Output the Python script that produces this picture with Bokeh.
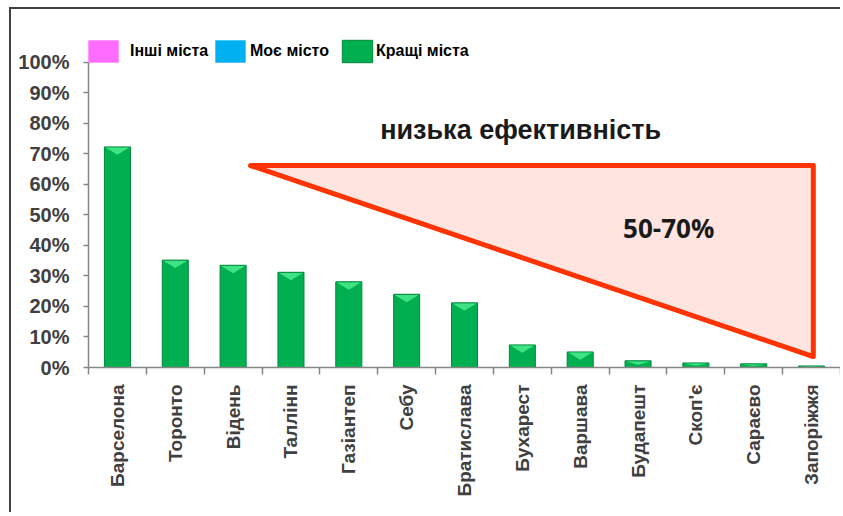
import math
from bokeh.plotting import figure
from bokeh.models import (Range1d, FixedTicker, NumeralTickFormatter, Legend,
                          LegendItem, Label, ColumnDataSource)
from bokeh.embed import file_html
from bokeh.resources import INLINE

# ---- data ----
cities = ["Барселона", "Торонто", "Відень", "Таллінн", "Газіантеп", "Себу",
          "Братислава", "Бухарест", "Варшава", "Будапешт", "Скоп'є", "Сараєво",
          "Запоріжжя"]
best_values = [0.723, 0.352, 0.335, 0.312, 0.281, 0.240, 0.212, 0.074, 0.051,
               0.022, 0.015, 0.012, 0.005]
other_values = [0, 0, 0, 0, 0, 0, 0, 0, 0, 0, 0, 0, 0]
my_values = [0, 0, 0, 0, 0, 0, 0, 0, 0, 0, 0, 0, 0]
series_names = ["Інші міста", "Моє місто", "Кращі міста"]
y_ticks = [0.0, 0.1, 0.2, 0.3, 0.4, 0.5, 0.6, 0.7, 0.8, 0.9, 1.0]
zone_label = "низька ефективність"
zone_range_label = "50-70%"
# triangle "low efficiency" zone (category position, share)
zone_x = [2.80, 12.53, 12.53]
zone_y = [0.662, 0.662, 0.036]

n = len(cities)
xc = [i + 0.5 for i in range(n)]
bar_w = 0.45

p = figure(width=831, height=505, output_backend="svg", toolbar_location=None,
           x_range=Range1d(0, n), y_range=Range1d(0, 1.157),
           min_border_left=77, min_border_right=2, min_border_top=5,
           min_border_bottom=147)
p.styles = {"border-top": "2px solid #404040", "border-left": "2px solid #404040",
            "margin-left": "9px", "margin-top": "7px"}
p.outline_line_color = None
p.xgrid.visible = False
p.ygrid.visible = False
p.background_fill_color = "white"

font = "Liberation Sans"

src_other = ColumnDataSource(data=dict(x=xc, top=other_values))
src_mine = ColumnDataSource(data=dict(x=xc, top=my_values))
r_other = p.vbar(x="x", top="top", width=bar_w, source=src_other,
                 fill_color="#FF6CFF", line_color=None)
r_mine = p.vbar(x="x", top="top", width=bar_w, source=src_mine,
                fill_color="#00B0F0", line_color=None)

src = ColumnDataSource(data=dict(x=xc, top=best_values, city=cities))
r_best = p.vbar(x="x", top="top", width=bar_w, source=src, fill_color="#00B050",
                line_color="#00873C", line_width=1)

# bevel highlight on bar tops (derived from the bar values)
bev_xs = [[x - bar_w / 2 + 0.02, x + bar_w / 2 - 0.02, x] for x in xc]
bev_ys = [[t - 0.002, t - 0.002, t - min(0.026, t * 0.6)] for t in best_values]
p.patches(bev_xs, bev_ys, fill_color="#3FE384", line_color=None)

# zone triangle
p.patch(zone_x, zone_y, fill_color="#FFE4DF", line_color="#FF3300", line_width=5,
        line_join="round")

p.add_layout(Label(x=7.47, y=0.777, text=zone_label, text_font=font,
                   text_font_style="bold", text_font_size="27px", text_color="#1a1a1a",
                   text_align="center", text_baseline="middle"))
p.add_layout(Label(x=10.03, y=0.456, text=zone_range_label, text_font="Open Sans",
                   text_font_style="bold", text_font_size="26px", text_color="#1a1a1a",
                   text_align="center", text_baseline="middle"))

# axes
xa = p.xaxis[0]
xa.ticker = FixedTicker(ticks=xc, minor_ticks=list(range(n + 1)))
xa.major_label_overrides = {x: c for x, c in zip(xc, cities)}
xa.major_label_orientation = math.pi / 2
xa.major_tick_line_color = None
xa.major_tick_out = 0
xa.minor_tick_out = 7
xa.minor_tick_in = 0
xa.minor_tick_line_color = "#868686"
xa.minor_tick_line_width = 1.5
xa.axis_line_color = "#868686"
xa.axis_line_width = 1.5
xa.major_label_standoff = 10
xa.major_label_text_font = font
xa.major_label_text_font_style = "bold"
xa.major_label_text_font_size = "19px"
xa.major_label_text_color = "#404040"

ya = p.yaxis[0]
ya.ticker = FixedTicker(ticks=y_ticks)
ya.formatter = NumeralTickFormatter(format="0%")
ya.bounds = (0, 1)
ya.minor_tick_line_color = None
ya.major_tick_out = 5
ya.major_tick_in = 0
ya.major_tick_line_color = "#868686"
ya.major_tick_line_width = 1.5
ya.axis_line_color = "#868686"
ya.axis_line_width = 1.5
ya.major_label_standoff = 14
ya.major_label_text_font = font
ya.major_label_text_font_style = "bold"
ya.major_label_text_font_size = "20px"
ya.major_label_text_color = "#404040"

# legends (three separate entries, as in the original)
legend_specs = [(r_other, series_names[0], -4, 8),
                (r_mine, series_names[1], 123, 1),
                (r_best, series_names[2], 250, -11)]
for r, name, lx, standoff in legend_specs:
    lg = Legend(items=[LegendItem(label=name, renderers=[r])], location=(lx, 302),
                orientation="horizontal", glyph_width=38, glyph_height=28,
                label_height=28, label_standoff=standoff, padding=0, margin=0,
                border_line_color=None, background_fill_alpha=0,
                label_text_font=font, label_text_font_style="bold",
                label_text_font_size="16px", label_text_color="#000000")
    p.add_layout(lg)

open("out.html", "w").write(file_html(p, INLINE))
